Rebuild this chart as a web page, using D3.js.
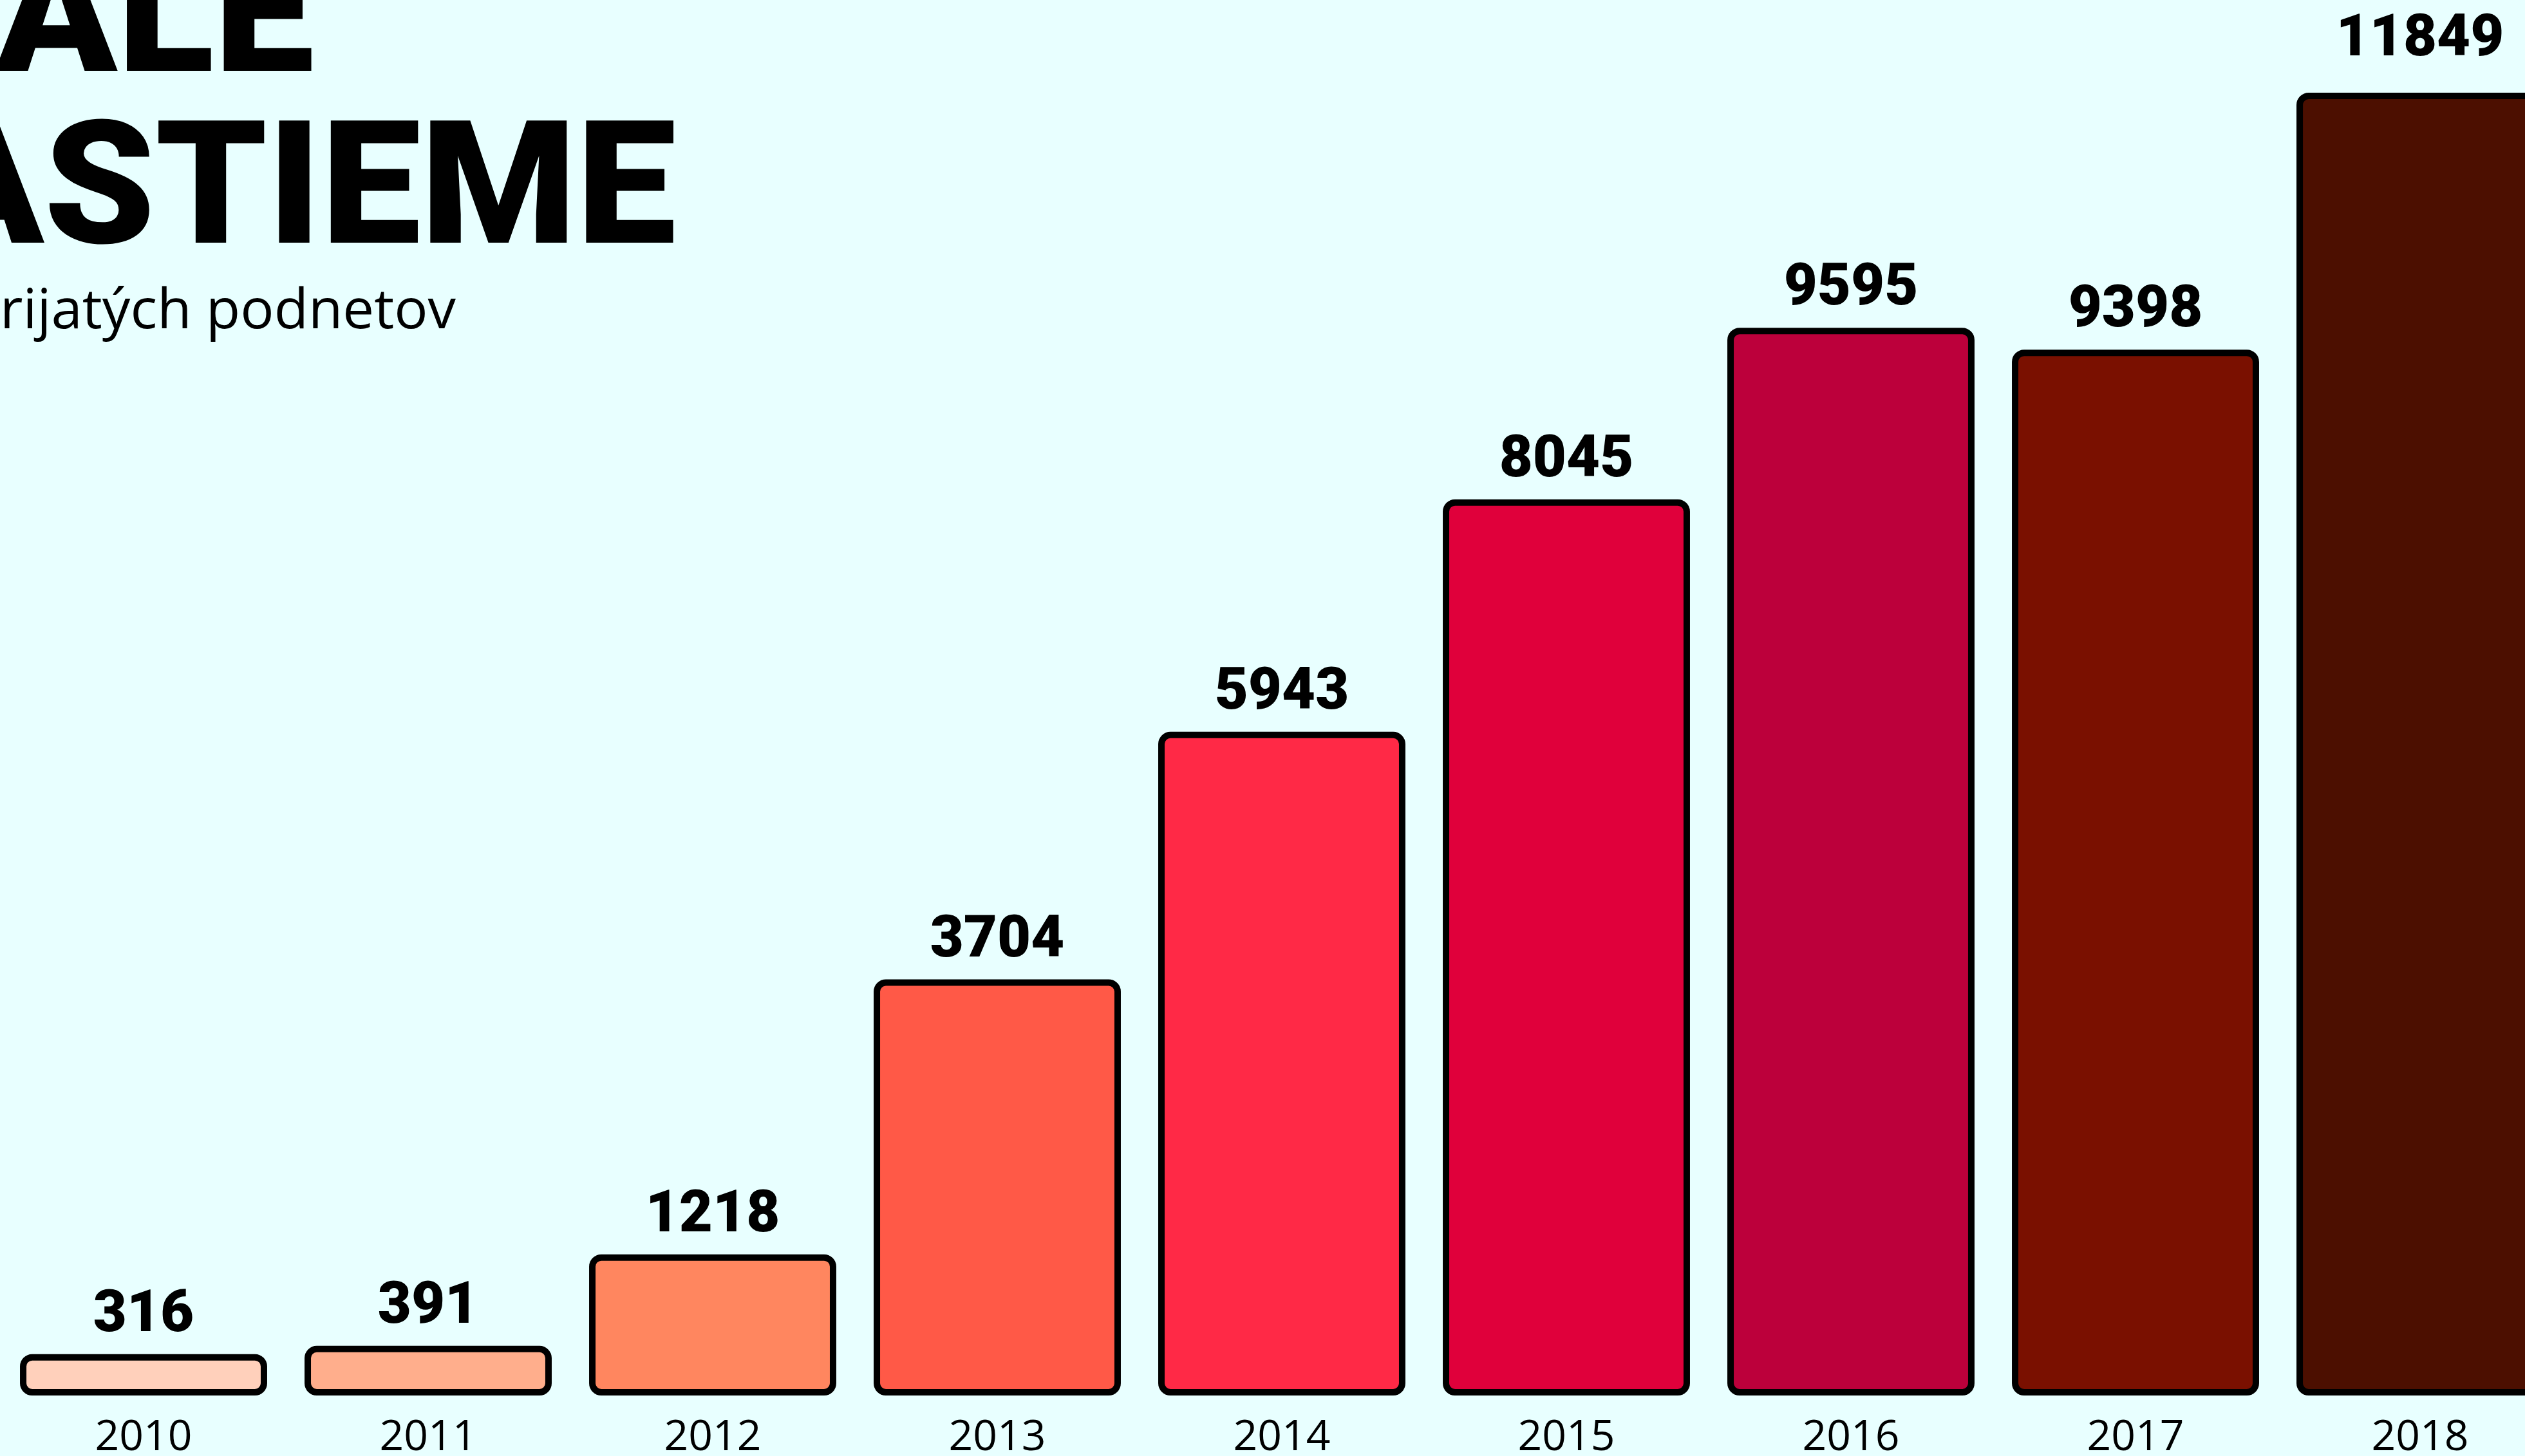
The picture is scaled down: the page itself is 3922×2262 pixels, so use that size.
<!DOCTYPE html>
<html><head><meta charset="utf-8">
<script src="https://cdn.jsdelivr.net/npm/d3@7/dist/d3.min.js"></script>
<style>html,body{margin:0;padding:0;background:#E8FFFF;overflow:hidden}</style>
</head><body>
<svg id="c" width="3922" height="2262"></svg>
<script>
const years = ["2010","2011","2012","2013","2014","2015","2016","2017","2018"];
const values = [316, 391, 1218, 3704, 5943, 8045, 9595, 9398, 11849];
const colors = ["#FFD0BB","#FFAE8C","#FF865F","#FF5947","#FF2946","#E0003B","#BC003B","#7A1000","#4C0F00"];
const titleLines = ["STÁLE","RASTIEME"];
const subtitle = "Počet prijatých podnetov";

const svg = d3.select("#c");
svg.append("rect").attr("width",3922).attr("height",2262).attr("fill","#E8FFFF");

const x = d3.scaleBand().domain(years).range([2, 3980]).paddingInner(0.154).paddingOuter(0.077);
const y = d3.scaleLinear().domain([0, 11849]).range([2163, 127]);
const plotTop = 149; // bars never rise above the plot's top edge

const g = svg.append("g");
g.selectAll("rect.bar").data(years).join("rect")
  .attr("class","bar")
  .attr("x", d => x(d))
  .attr("width", x.bandwidth())
  .attr("y", (d,i) => Math.max(y(values[i]), plotTop))
  .attr("height", (d,i) => y(0) - Math.max(y(values[i]), plotTop))
  .attr("rx", 14).attr("ry", 14)
  .attr("fill", (d,i) => colors[i])
  .attr("stroke", "#000").attr("stroke-width", 10);

g.selectAll("text.val").data(years).join("text")
  .attr("class","val")
  .attr("x", d => x(d) + x.bandwidth()/2)
  .attr("y", (d,i) => y(values[i]) - 41)
  .attr("text-anchor","middle")
  .style("font-family","Roboto, sans-serif")
  .style("font-weight","900")
  .style("font-size","90px")
  .attr("fill","#000")
  .text((d,i) => values[i]);

const xAxis = d3.axisBottom(x).tickSize(0).tickPadding(0);
const ax = svg.append("g").attr("transform","translate(0,2253)").call(xAxis);
ax.select(".domain").remove();
ax.selectAll("text")
  .attr("dy", 0).attr("y", 0)
  .style("font-family","'Open Sans','Noto Sans',sans-serif")
  .style("font-size","66px")
  .attr("fill","#000");

// title
svg.append("text").attr("x", -340).attr("y", 110)
  .attr("textLength", 828).attr("lengthAdjust","spacingAndGlyphs")
  .style("font-family","Roboto, 'Open Sans', sans-serif").style("font-weight","900")
  .style("font-size","267px").attr("fill","#000").text(titleLines[0]);
svg.append("text").attr("x", -300).attr("y", 377)
  .attr("textLength", 1350).attr("lengthAdjust","spacingAndGlyphs")
  .style("font-family","Roboto, 'Open Sans', sans-serif").style("font-weight","900")
  .style("font-size","267px").attr("fill","#000").text(titleLines[1]);

// subtitle: condensed to match reference width of the visible part
const sub = svg.append("text").attr("y", 510)
  .style("font-family","'Open Sans','Noto Sans',sans-serif")
  .style("font-size","86px").attr("fill","#000").text(subtitle);
const tmp = svg.append("text").style("font-family","'Open Sans','Noto Sans',sans-serif")
  .style("font-size","86px").text("rijatých podnetov");
const visW = tmp.node().getComputedTextLength();
tmp.remove();
const fullW = sub.node().getComputedTextLength();
const k = 708 / visW;
sub.attr("x", 708 - fullW * k).attr("textLength", fullW * k).attr("lengthAdjust","spacingAndGlyphs");
</script>
</body></html>
